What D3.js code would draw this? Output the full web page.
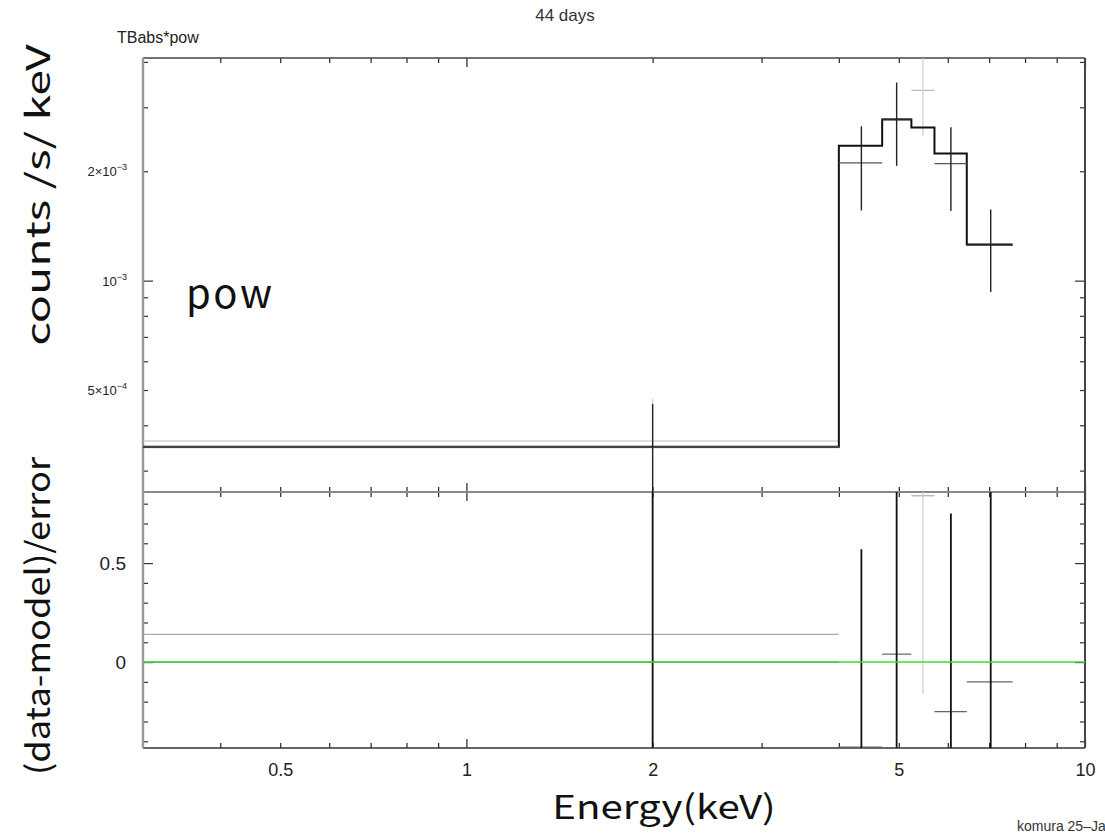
<!DOCTYPE html>
<html><head><meta charset="utf-8">
<script src="https://cdn.jsdelivr.net/npm/d3@7"></script>
<style>body{margin:0;background:#fff}svg{display:block}</style>
</head><body><svg id="chart" width="1105" height="833"></svg>
<script>
// ---- first spectrum (black): channel bins in keV, rates in counts/s/keV
const src1Lo    = [0.3, 4.0, 4.7, 5.71, 6.44];
const src1Hi    = [4.0, 4.7, 5.24, 6.44, 7.64];
const src1Mid   = [2.0, 4.35, 4.96, 6.07, 7.04];
const src1Rate  = [3.49e-4, 2.11e-3, 2.79e-3, 2.10e-3, 1.25e-3];
const src1Err   = [1.09e-4, 0.55e-3, 0.72e-3, 0.545e-3, 0.32e-3];
const src1Resid = [0.0, -0.43, 0.04, -0.25, -0.1];
const src1ResErr = [1, 1, 1, 1, 1];
// folded model for the first spectrum
const model1Lo  = [0.3, 4.0, 4.7, 5.24, 5.71, 6.44];
const model1Hi  = [4.0, 4.7, 5.24, 5.71, 6.44, 7.64];
const model1Val = [3.49e-4, 2.35e-3, 2.775e-3, 2.64e-3, 2.24e-3, 1.257e-3];

// ---- second spectrum (grey)
const src2Lo    = [0.3, 5.24];
const src2Hi    = [4.0, 5.71];
const src2Mid   = [2.0, 5.47];
const src2Rate  = [3.62e-4, 3.34e-3];
const src2Err   = [1.1e-4, 0.83e-3];
const src2Resid = [0.14, 0.84];
const src2ResErr = [1, 1];
const model2Lo  = [0.3, 5.24];
const model2Hi  = [4.0, 5.71];
const model2Val = [3.47e-4, 2.64e-3];

// ---- axis ticks and labels
const xMinorTicks = [0.4, 0.5, 0.6, 0.7, 0.8, 0.9, 2, 3, 4, 5, 6, 7, 8, 9];
const xMajorTicks = [1, 10];
const xLabelValues = [0.5, 1, 2, 5, 10];
const xLabelText   = ["0.5", "1", "2", "5", "10"];
const yMinorTicks = [3e-4, 4e-4, 5e-4, 6e-4, 7e-4, 8e-4, 9e-4, 2e-3, 3e-3, 4e-3];
const yMajorTicks = [1e-3];
const yLabelValues = [5e-4, 1e-3, 2e-3];
const yLabelMant   = ["5×10", "10", "2×10"];
const yLabelExp    = ["−4", "−3", "−3"];
const rMinorTicks = [-0.4, -0.3, -0.2, -0.1, 0.1, 0.2, 0.3, 0.4, 0.6, 0.7, 0.8];
const rMajorTicks = [0, 0.5];
const rLabelValues = [0, 0.5];
const rLabelText   = ["0", "0.5"];

const svg = d3.select("#chart");
const L = 143, R = 1085, T = 58, M = 492, B = 748;

const x = d3.scaleLog().domain([0.3, 10]).range([L, R]);
const y = d3.scaleLog().domain([2.62e-4, 4.1e-3]).range([M, T]);
const yr = d3.scaleLinear().domain([-0.434, 0.859]).range([B, M]);

const defs = svg.append("defs");
defs.append("clipPath").attr("id", "clipTop")
  .append("rect").attr("x", L).attr("y", T).attr("width", R - L).attr("height", M - T);
defs.append("clipPath").attr("id", "clipBot")
  .append("rect").attr("x", L).attr("y", M).attr("width", R - L).attr("height", B - M);

const tickFont = "'Liberation Sans', Arial, Helvetica, sans-serif";
const titleFont = "'Noto Sans CJK JP', 'Noto Sans', sans-serif";

// ---- tick marks drawn with d3 axes (labels suppressed, drawn separately)
function ticks(axisFn, scale, values, size, tx, ty, color) {
  const g = svg.append("g").attr("transform", `translate(${tx},${ty})`)
    .call(axisFn(scale).tickValues(values).tickSize(size).tickFormat(""));
  g.select(".domain").remove();
  g.selectAll(".tick line").attr("stroke", color).attr("stroke-width", 1.2);
  return g;
}
// x ticks: top of upper panel, both sides of the divider, bottom of lower panel
ticks(d3.axisBottom, x, xMinorTicks, 5, 0, T, "#222");
ticks(d3.axisBottom, x, xMajorTicks, 9, 0, T, "#222");
ticks(d3.axisTop, x, xMinorTicks, 5, 0, M, "#222");
ticks(d3.axisTop, x, xMajorTicks, 9, 0, M, "#222");
ticks(d3.axisBottom, x, xMinorTicks, 5, 0, M, "#222");
ticks(d3.axisBottom, x, xMajorTicks, 9, 0, M, "#222");
ticks(d3.axisTop, x, xMinorTicks, 5, 0, B, "#222");
ticks(d3.axisTop, x, xMajorTicks, 9, 0, B, "#222");
// y ticks, upper panel
ticks(d3.axisRight, y, yMinorTicks, 5, L, 0, "#333");
ticks(d3.axisRight, y, yMajorTicks, 10, L, 0, "#333");
ticks(d3.axisLeft, y, yMinorTicks, 5, R, 0, "#333");
ticks(d3.axisLeft, y, yMajorTicks, 10, R, 0, "#333");
// y ticks, residual panel
ticks(d3.axisRight, yr, rMinorTicks, 5, L, 0, "#333");
ticks(d3.axisRight, yr, rMajorTicks, 10, L, 0, "#333");
ticks(d3.axisLeft, yr, rMinorTicks, 5, R, 0, "#333");
ticks(d3.axisLeft, yr, rMajorTicks, 10, R, 0, "#333");

// ---- frame
const frame = svg.append("g").attr("fill", "none");
frame.append("line").attr("x1", L).attr("x2", R).attr("y1", T).attr("y2", T).attr("stroke", "#444").attr("stroke-width", 1.3);
frame.append("line").attr("x1", L).attr("x2", R).attr("y1", M).attr("y2", M).attr("stroke", "#888").attr("stroke-width", 2);
frame.append("line").attr("x1", L).attr("x2", R).attr("y1", B).attr("y2", B).attr("stroke", "#333").attr("stroke-width", 1.6);
frame.append("line").attr("x1", L).attr("x2", L).attr("y1", T).attr("y2", B).attr("stroke", "#999").attr("stroke-width", 2.4);
frame.append("line").attr("x1", R).attr("x2", R).attr("y1", T).attr("y2", B).attr("stroke", "#444").attr("stroke-width", 2);

// ---- tick labels
const xl = svg.append("g").attr("transform", `translate(0,${B})`)
  .call(d3.axisBottom(x).tickValues(xLabelValues).tickSize(0).tickPadding(15)
    .tickFormat((d, i) => xLabelText[i]));
xl.select(".domain").remove();
xl.selectAll("text").attr("font-family", tickFont).attr("font-size", 18).attr("fill", "#222");

const yl = svg.append("g").attr("font-family", tickFont).attr("fill", "#222");
yLabelValues.forEach((v, i) => {
  const t = yl.append("text").attr("x", 127).attr("y", y(v) + 5)
    .attr("text-anchor", "end").attr("font-size", 13);
  t.append("tspan").text(yLabelMant[i]);
  t.append("tspan").attr("font-size", 9).attr("dy", -6).text(yLabelExp[i]);
});
rLabelValues.forEach((v, i) => {
  yl.append("text").attr("x", 126).attr("y", yr(v) + 7)
    .attr("text-anchor", "end").attr("font-size", 19).text(rLabelText[i]);
});

// ---- helpers for step model and error crosses
function stepPath(lo, hi, val, xs, ys) {
  let d = "";
  lo.forEach((l, i) => {
    const x0 = xs(l), x1 = xs(hi[i]), yy = ys(val[i]);
    d += (i === 0 ? `M${x0},${yy}` : `L${x0},${yy}`) + `L${x1},${yy}`;
  });
  return d;
}
function crosses(g, lo, hi, mid, val, err, ys, hColor, vColor, vWidth) {
  lo.forEach((l, i) => {
    g.append("line").attr("x1", x(l)).attr("x2", x(hi[i]))
      .attr("y1", ys(val[i])).attr("y2", ys(val[i]))
      .attr("stroke", hColor).attr("stroke-width", 1.2);
    const lowV = ys === y ? Math.max(val[i] - err[i], 1e-6) : val[i] - err[i];
    g.append("line").attr("x1", x(mid[i])).attr("x2", x(mid[i]))
      .attr("y1", ys(val[i] + err[i])).attr("y2", ys(lowV))
      .attr("stroke", vColor).attr("stroke-width", vWidth);
  });
}

// ---- upper panel: spectra and folded model
const upper = svg.append("g").attr("clip-path", "url(#clipTop)");
upper.append("path").attr("d", stepPath(model2Lo.slice(0, 1), model2Hi.slice(0, 1), model2Val.slice(0, 1), x, y))
  .attr("fill", "none").attr("stroke", "#bbb").attr("stroke-width", 1.2);
crosses(upper, src2Lo, src2Hi, src2Mid, src2Rate, src2Err, y, "#bbb", "#ccc", 1.2);
upper.append("path").attr("d", stepPath(model1Lo, model1Hi, model1Val, x, y))
  .attr("fill", "none").attr("stroke", "#111").attr("stroke-width", 2);
crosses(upper, src1Lo, src1Hi, src1Mid, src1Rate, src1Err, y, "#555", "#222", 1.4);

// ---- lower panel: residuals
const lower = svg.append("g").attr("clip-path", "url(#clipBot)");
crosses(lower, src2Lo, src2Hi, src2Mid, src2Resid, src2ResErr, yr, "#aaa", "#ccc", 1.2);
crosses(lower, src1Lo, src1Hi, src1Mid, src1Resid, src1ResErr, yr, "#666", "#111", 1.8);
lower.append("line").attr("x1", L).attr("x2", R).attr("y1", yr(0)).attr("y2", yr(0))
  .attr("stroke", "#3cdc3c").attr("stroke-width", 1.6);

// ---- titles
svg.append("text").attr("x", 565).attr("y", 21).attr("text-anchor", "middle")
  .attr("font-family", tickFont).attr("font-size", 17).attr("fill", "#333").text("44 days");
svg.append("text").attr("x", 117).attr("y", 43)
  .attr("font-family", tickFont).attr("font-size", 16).attr("fill", "#222").text("TBabs*pow");
svg.append("text").attr("x", 186).attr("y", 308).attr("letter-spacing", 2.5)
  .attr("font-family", titleFont).attr("font-size", 40).attr("fill", "#111").text("pow");
// axis titles are stretched along their reading direction
svg.append("text").attr("transform", "translate(50,195) rotate(-90) scale(1.41,1)").attr("text-anchor", "middle")
  .attr("font-family", titleFont).attr("font-size", 33).attr("fill", "#111").text("counts /s/ keV");
svg.append("text").attr("transform", "translate(50,616) rotate(-90) scale(1.1,1)").attr("text-anchor", "middle")
  .attr("font-family", titleFont).attr("font-size", 33).attr("fill", "#111").text("(data-model)/error");
svg.append("text").attr("transform", "translate(664,819) scale(1.22,1)").attr("text-anchor", "middle")
  .attr("font-family", titleFont).attr("font-size", 33).attr("fill", "#111").text("Energy(keV)");
svg.append("text").attr("x", 1017).attr("y", 831)
  .attr("font-family", tickFont).attr("font-size", 14).attr("fill", "#333").text("komura 25–Jan");
</script></body></html>
